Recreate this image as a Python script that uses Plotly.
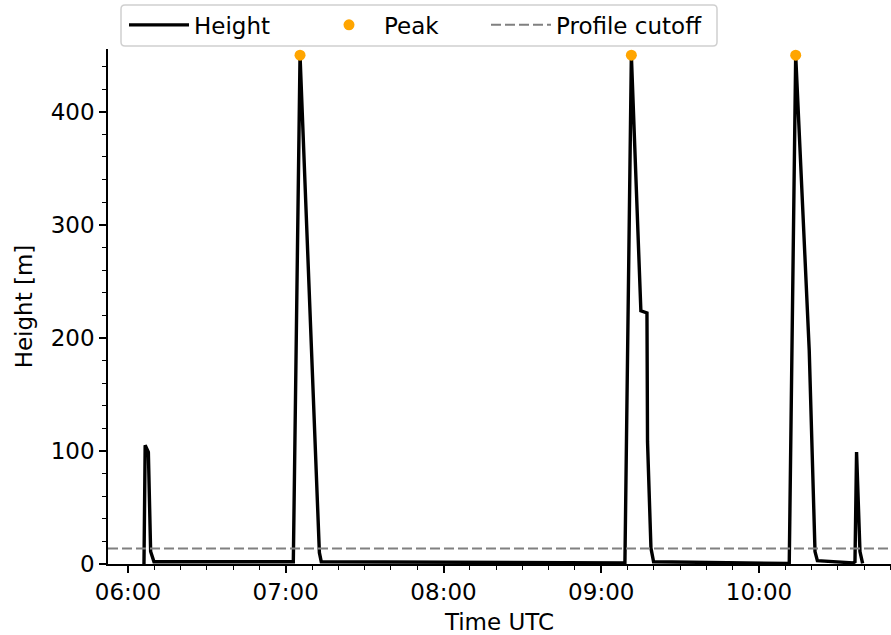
import plotly.graph_objects as go

DAY = "2021-06-01 "

# Height series (time UTC, height in m)
times = ["06:06:05", "06:06:32", "06:07:45", "06:08:37", "06:09:53",
         "07:02:53", "07:05:26", "07:12:27", "07:12:48", "07:13:31",
         "09:09:00", "09:11:27", "09:15:04", "09:17:23", "09:17:36", "09:18:54", "09:19:54",
         "10:11:30", "10:13:57", "10:19:06", "10:21:18", "10:22:12",
         "10:35:48", "10:36:30", "10:37:06", "10:38:24", "10:39:24"]
heights = [0, 105, 99, 11, 2,
           2, 450, 18, 10, 2,
           1, 450, 224, 222, 108, 14, 2,
           0.5, 450, 189, 11, 3,
           1, 2, 99, 11, 0.5]

# Detected peaks
peak_times = ["07:05:26", "09:11:27", "10:13:57"]
peak_heights = [450, 450, 450]

# Profile cutoff height
cutoff = 13.8

x_range = ["05:52:24", "10:50:12"]
y_range = [0, 455.5]

FONT = "DejaVu Sans"

# plot area in pixels (for legend placement)
L, R, T, B = 108, 891, 49, 564
W, H = 891, 635


def px_x(px):
    return (px - L) / (R - L)


def px_y(py):
    return (B - py) / (B - T)


fig = go.Figure()
fig.add_trace(go.Scatter(
    x=[DAY + t for t in times], y=heights, mode="lines", name="Height",
    line=dict(color="black", width=3.4), legend="legend"))
fig.add_trace(go.Scatter(
    x=[DAY + t for t in peak_times], y=peak_heights, mode="markers", name="Peak",
    marker=dict(color="#FFA500", size=11, line=dict(width=0)), legend="legend2"))
fig.add_trace(go.Scatter(
    x=[DAY + x_range[0], DAY + x_range[1]], y=[cutoff, cutoff], mode="lines",
    name="Profile cutoff",
    line=dict(color="#808080", width=2, dash="10px,4px"), legend="legend3"))

leg_common = dict(orientation="h", y=px_y(3.4), xanchor="left", yanchor="top",
                  borderwidth=0, bgcolor="rgba(0,0,0,0)",
                  font=dict(size=23), itemwidth=60)

# legend frame (rounded rectangle)
x0, x1, y0, y1, r = 121, 717, 5, 46, 4
frame = (f"M{px_x(x0 + r)},{px_y(y0)} L{px_x(x1 - r)},{px_y(y0)} "
         f"Q{px_x(x1)},{px_y(y0)} {px_x(x1)},{px_y(y0 + r)} "
         f"L{px_x(x1)},{px_y(y1 - r)} Q{px_x(x1)},{px_y(y1)} {px_x(x1 - r)},{px_y(y1)} "
         f"L{px_x(x0 + r)},{px_y(y1)} Q{px_x(x0)},{px_y(y1)} {px_x(x0)},{px_y(y1 - r)} "
         f"L{px_x(x0)},{px_y(y0 + r)} Q{px_x(x0)},{px_y(y0)} {px_x(x0 + r)},{px_y(y0)} Z")

fig.update_layout(
    width=W, height=H,
    margin=dict(l=L, r=W - R, t=T, b=H - B),
    paper_bgcolor="white", plot_bgcolor="white",
    font=dict(family=FONT, size=23, color="black"),
    showlegend=True,
    legend=dict(x=px_x(124), **leg_common),
    legend2=dict(x=px_x(314), **leg_common),
    legend3=dict(x=px_x(486), **leg_common),
    shapes=[dict(type="path", xref="paper", yref="paper", path=frame,
                 line=dict(color="#d0d0d0", width=1.5), fillcolor="rgba(255,255,255,0.8)",
                 layer="below")],
)
fig.update_xaxes(
    type="date", range=[DAY + x_range[0], DAY + x_range[1]],
    tickformat="%H:%M", dtick=3600000, tick0=DAY + "06:00:00",
    showline=True, linecolor="black", linewidth=1.6, mirror=False,
    ticks="outside", ticklen=7, tickwidth=1.5, tickcolor="black",
    minor=dict(dtick=600000, ticks="outside", ticklen=4, tickwidth=1.2, tickcolor="black"),
    showgrid=False, zeroline=False,
    title=dict(text="Time UTC", standoff=10, font=dict(size=23)),
)
fig.update_yaxes(
    range=y_range, dtick=100, tick0=0,
    showline=True, linecolor="black", linewidth=1.6,
    ticks="outside", ticklen=7, tickwidth=1.5, tickcolor="black",
    minor=dict(dtick=20, ticks="outside", ticklen=4, tickwidth=1.2, tickcolor="black"),
    showgrid=False, zeroline=False,
    title=dict(text="Height [m]", standoff=12, font=dict(size=23)),
)

fig.write_html("out.html")
